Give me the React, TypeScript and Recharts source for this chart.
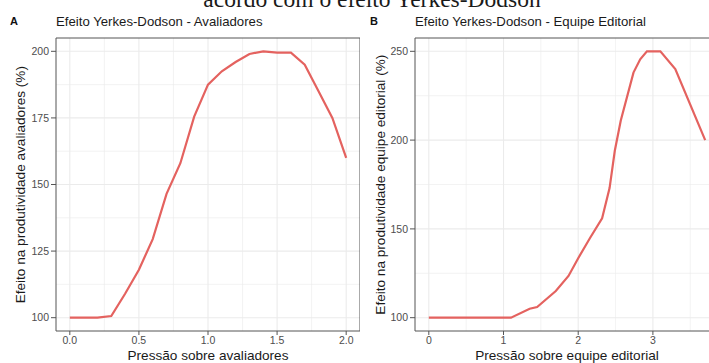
import React from 'react';
import { LineChart, Line, XAxis, YAxis, CartesianGrid, ReferenceArea } from 'recharts';

// Panel A – Avaliadores
const pressureA = [0, 0.1, 0.2, 0.3, 0.4, 0.5, 0.6, 0.7, 0.8, 0.9, 1.0, 1.1, 1.2, 1.3, 1.4, 1.5, 1.6, 1.7, 1.8, 1.9, 2.0];
const effectA = [100, 100, 100, 100.6, 109, 118, 129.5, 146.5, 158, 175.5, 187.5, 192.5, 196, 199, 200, 199.5, 199.5, 195, 185, 175, 160];
const ticksAX = [0, 0.5, 1, 1.5, 2];
const minorAX = [0.25, 0.75, 1.25, 1.75];
const ticksAY = [100, 125, 150, 175, 200];
const minorAY = [112.5, 137.5, 162.5, 187.5];

// Panel B – Equipe Editorial
const pressureB = [0, 1.1, 1.35, 1.45, 1.7, 1.87, 2.0, 2.16, 2.32, 2.42, 2.49, 2.57, 2.74, 2.83, 2.92, 3.1, 3.3, 3.7];
const effectB = [100, 100, 105, 106, 115, 123.5, 133.5, 145, 156, 173, 194, 211, 238, 245.5, 250, 250, 240, 200];
const ticksBX = [0, 1, 2, 3];
const minorBX = [0.5, 1.5, 2.5, 3.5];
const ticksBY = [100, 150, 200, 250];
const minorBY = [125, 175, 225];

const dataA = pressureA.map((x, i) => ({ x, y: effectA[i] }));
const dataB = pressureB.map((x, i) => ({ x, y: effectB[i] }));

const SANS = '"Liberation Sans", Arial, Helvetica, sans-serif';
const LINE = '#E4625F';
const GRID = '#EBEBEB';
const BORDER = '#555';
const tickStyle = { fill: '#4D4D4D', fontSize: 10.5, fontFamily: SANS };

function Panel(props: {
  data: { x: number; y: number }[];
  width: number;
  left: number;
  yWidth: number;
  xDomain: [number, number];
  yDomain: [number, number];
  xTicks: number[];
  xMinor: number[];
  yTicks: number[];
  yMinor: number[];
  fmtX: (v: number) => string;
}) {
  const { data, width, left, yWidth, xDomain, yDomain, xTicks, xMinor, yTicks, yMinor, fmtX } = props;
  return (
    <div style={{ position: 'absolute', left, top: 0 }}>
      <LineChart width={width} height={363} data={data} margin={{ top: 38, right: 0, bottom: 0, left: 0 }}>
        <CartesianGrid stroke={GRID} strokeWidth={0.6} horizontalValues={yMinor} verticalValues={xMinor} />
        <CartesianGrid stroke={GRID} strokeWidth={1.1} horizontalValues={yTicks} verticalValues={xTicks} />
        <XAxis
          dataKey="x"
          type="number"
          domain={xDomain}
          allowDataOverflow
          ticks={xTicks}
          tickFormatter={fmtX}
          axisLine={false}
          tickLine={{ stroke: BORDER }}
          tickSize={4}
          tickMargin={2}
          tick={tickStyle}
          height={32}
          interval={0}
        />
        <YAxis
          type="number"
          domain={yDomain}
          allowDataOverflow
          ticks={yTicks}
          axisLine={false}
          tickLine={{ stroke: BORDER }}
          tickSize={5}
          tickMargin={2}
          tick={tickStyle}
          width={yWidth}
          interval={0}
        />
        <Line dataKey="y" type="linear" stroke={LINE} strokeWidth={2.2} dot={false} isAnimationActive={false} />
        <ReferenceArea
          x1={xDomain[0]}
          x2={xDomain[1]}
          y1={yDomain[0]}
          y2={yDomain[1]}
          fill="none"
          fillOpacity={0}
          stroke={BORDER}
          strokeWidth={1}
          ifOverflow="visible"
        />
      </LineChart>
    </div>
  );
}

export default function App() {
  return (
    <div style={{ position: 'absolute', left: 0, top: 0, width: 709, height: 363, overflow: 'hidden', background: '#fff' }}>
      <Panel
        data={dataA}
        width={360}
        left={0}
        yWidth={56}
        xDomain={[-0.1, 2.1]}
        yDomain={[95, 205]}
        xTicks={ticksAX}
        xMinor={minorAX}
        yTicks={ticksAY}
        yMinor={minorAY}
        fmtX={(v) => v.toFixed(1)}
      />
      <Panel
        data={dataB}
        width={357}
        left={362}
        yWidth={53}
        xDomain={[-0.185, 3.885]}
        yDomain={[92.5, 257.5]}
        xTicks={ticksBX}
        xMinor={minorBX}
        yTicks={ticksBY}
        yMinor={minorBY}
        fmtX={(v) => String(v)}
      />
      <svg width={709} height={363} style={{ position: 'absolute', left: 0, top: 0, pointerEvents: 'none' }}>
        <text x={372} y={7} textAnchor="middle" fontFamily='"Liberation Serif", "Times New Roman", serif' fontSize={23.5} fill="#1a1a1a">
          acordo com o efeito Yerkes-Dodson
        </text>
        <text x={10} y={25} fontFamily={SANS} fontSize={11} fontWeight="bold" fill="#111">A</text>
        <text x={56} y={26} fontFamily={SANS} fontSize={13.2} fill="#1a1a1a">Efeito Yerkes-Dodson - Avaliadores</text>
        <text x={370} y={25} fontFamily={SANS} fontSize={11} fontWeight="bold" fill="#111">B</text>
        <text x={415} y={26} fontFamily={SANS} fontSize={13.2} fill="#1a1a1a">Efeito Yerkes-Dodson - Equipe Editorial</text>
        <text x={208} y={360} textAnchor="middle" fontFamily={SANS} fontSize={13.6} fill="#1a1a1a">Pressão sobre avaliadores</text>
        <text x={567} y={360} textAnchor="middle" fontFamily={SANS} fontSize={13.6} fill="#1a1a1a">Pressão sobre equipe editorial</text>
        <text transform="translate(24.5,184.7) rotate(-90)" textAnchor="middle" fontFamily={SANS} fontSize={13.6} fill="#1a1a1a">
          Efeito na produtividade avaliadores (%)
        </text>
        <text transform="translate(384.5,184.7) rotate(-90)" textAnchor="middle" fontFamily={SANS} fontSize={13.6} fill="#1a1a1a">
          Efeito na produtividade equipe editorial (%)
        </text>
      </svg>
    </div>
  );
}
